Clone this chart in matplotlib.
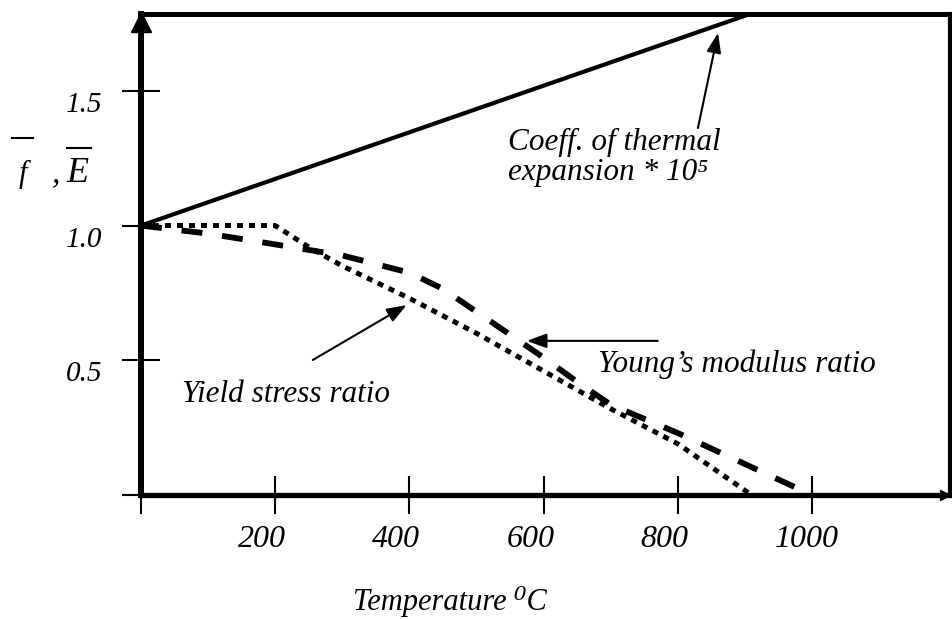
import numpy as np
import matplotlib.pyplot as plt
from matplotlib.lines import Line2D
from matplotlib.transforms import ScaledTranslation

# Werte
temp_alpha = [0, 1000]
alpha_ratio = [1.0, 1.865]        # Coeff. of thermal expansion * 10^5

temp_E = [0, 100, 200, 300, 400, 450, 500, 600, 650, 700, 800, 900, 1000]
E_ratio = [1.0, 0.97, 0.93, 0.889, 0.825, 0.765, 0.68, 0.51, 0.42, 0.335, 0.23, 0.115, 0.0]

temp_fy = [0, 200, 250, 300, 400, 500, 600, 700, 800, 910]
fy_ratio = [1.0, 1.0, 0.92, 0.85, 0.73, 0.60, 0.46, 0.32, 0.19, 0.0]

x_ticks = [0, 200, 400, 600, 800, 1000]
x_ticklabels = ['', '200', '400', '600', '800', '1000']
y_ticks = [0, 0.5, 1.0, 1.5]
y_ticklabels = ['', '0.5', '1.0', '1.5']

plt.rcParams['font.family'] = ['Liberation Serif', 'DejaVu Serif']
plt.rcParams['font.style'] = 'italic'

W, H = 953, 619
fig = plt.figure(figsize=(W/100, H/100), dpi=100)
ax = fig.add_axes([141/W, 1 - 495/H, (950 - 141)/W, (495 - 14)/H])

ax.set_xlim(0, 1205.7)
ax.set_ylim(0, 1.785)

# Kurven
ax.plot(temp_alpha, alpha_ratio, color='k', lw=3)
ax.plot(temp_E, E_ratio, color='k', lw=4.2, dashes=(3.6, 3.4), dash_capstyle='butt')
ax.plot(temp_fy, fy_ratio, color='k', lw=3.6, dashes=(1.2, 1.2), dash_capstyle='butt')

# Rahmen
for side, lw in [('left', 4.3), ('bottom', 3.8), ('top', 3.6), ('right', 3.0)]:
    ax.spines[side].set_linewidth(lw)
    ax.spines[side].set_capstyle('projecting')

# Achsenpfeile
ax.plot([0], [0.984], transform=ax.transAxes, marker='^', ms=14, color='k', clip_on=False)
ax.plot([0.994], [0], transform=ax.transAxes, marker='>', ms=7, color='k', clip_on=False)

# Ticks
ax.set_xticks(x_ticks)
ax.set_xticklabels(x_ticklabels)
ax.set_yticks(y_ticks)
ax.set_yticklabels(y_ticklabels)
ax.tick_params(axis='both', direction='inout', length=27, width=1.5, colors='k')
ax.tick_params(axis='x', labelsize=23, pad=8)
ax.tick_params(axis='y', labelsize=21, pad=14)

dx = ScaledTranslation(-37/100, 0, fig.dpi_scale_trans)
for lab in ax.get_xticklabels():
    lab.set_horizontalalignment('left')
    lab.set_transform(lab.get_transform() + dx)
dy = ScaledTranslation(0, -11/100, fig.dpi_scale_trans)
for lab in ax.get_yticklabels():
    lab.set_transform(lab.get_transform() + dy)

# Beschriftungen der Kurven mit Pfeilen
arrow = dict(arrowstyle='-|>,head_length=0.6,head_width=0.22', color='k', lw=1.5,
             mutation_scale=20, shrinkA=0, shrinkB=0)
ax.annotate('', xy=(860, 1.715), xytext=(830, 1.362), arrowprops=arrow)
ax.annotate('', xy=(575, 0.572), xytext=(770, 0.572), arrowprops=arrow)
ax.annotate('', xy=(396, 0.705), xytext=(256, 0.501), arrowprops=arrow)

ax.text(547, 1.281, 'Coeff. of thermal', fontsize=22.5, va='baseline')
ax.text(547, 1.170, 'expansion * 10\u2075', fontsize=22.5, va='baseline')
ax.text(681, 0.457, 'Young\u2019s modulus ratio', fontsize=22.5, va='baseline')
ax.text(61, 0.345, 'Yield stress ratio', fontsize=22.5, va='baseline')

# x-Achsenbeschriftung
fig.text(353/W, 1 - 610/H, 'Temperature \u2070C', fontsize=22, va='baseline')

# y-Achsenbeschriftung: f und E mit Querstrich
fig.text(23/W, 1 - 182/H, 'f', fontsize=22, ha='center', va='baseline')
fig.text(52/W, 1 - 182/H, ',', fontsize=24, ha='left', va='baseline')
fig.text(66/W, 1 - 182/H, 'E', fontsize=26, ha='left', va='baseline')
fig.add_artist(Line2D([12/W, 33/W], [1 - 138/H] * 2, transform=fig.transFigure, color='k', lw=1.5))
fig.add_artist(Line2D([67/W, 91/W], [1 - 148/H] * 2, transform=fig.transFigure, color='k', lw=1.5))

fig.savefig('out.png', dpi=100)
